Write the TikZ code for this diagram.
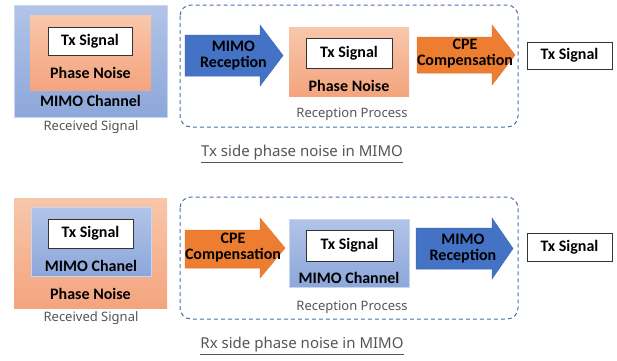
\documentclass[tikz,border=0pt]{standalone}
\usepackage{fontspec}
\setmainfont{Carlito}
\newfontfamily\notefont{Noto Sans}
\usetikzlibrary{positioning}

\definecolor{chanTop}{HTML}{B2C4E8}
\definecolor{chanBot}{HTML}{8CA7DA}
\definecolor{noiseTop}{HTML}{F8C7AB}
\definecolor{noiseBot}{HTML}{F4A47E}
\definecolor{rxBlue}{HTML}{4472C4}
\definecolor{rxBlueEdge}{HTML}{3F6BBA}
\definecolor{cpeOrange}{HTML}{ED7D31}
\definecolor{cpeOrangeEdge}{HTML}{E2742B}
\definecolor{frameBlue}{HTML}{4A6FB5}
\definecolor{noteGrey}{HTML}{555555}

\tikzset{
  chanbox/.style={rectangle, inner sep=0pt, top color=chanTop, bottom color=chanBot, draw=chanTop!70!white, line width=0.4pt},
  noisebox/.style={rectangle, inner sep=0pt, top color=noiseTop, bottom color=noiseBot, draw=none},
  sigbox/.style={rectangle, inner sep=0pt, fill=white, draw=black!80, line width=0.8pt,
    minimum height=28pt, font=\fontsize{16}{17}\selectfont\bfseries},
  boldlabel/.style={inner sep=0pt, font=\fontsize{16}{17}\selectfont\bfseries, text=black},
  arrowlabel/.style={inner sep=0pt, align=center, font=\fontsize{16}{16}\selectfont\bfseries, text=black},
  note/.style={inner sep=0pt, font=\notefont\fontsize{13}{15}\selectfont, text=noteGrey},
  caption/.style={inner sep=0pt, font=\notefont\fontsize{15}{17}\selectfont, text=noteGrey},
  frame/.style={draw=frameBlue, line width=1pt, dash pattern=on 4pt off 3pt, rounded corners=11pt},
  bluearrow/.style={fill=rxBlue, draw=rxBlueEdge, line width=0.5pt},
  orangearrow/.style={fill=cpeOrange, draw=cpeOrangeEdge, line width=0.5pt}
}

\begin{document}
\begin{tikzpicture}[x=1pt, y=-1pt]
\useasboundingbox (0,0) rectangle (617,360);

% ---------- Tx side phase noise ----------
\node[chanbox, minimum width=153pt, minimum height=112pt] (chanA) at (90.5,61) {};
\node[noisebox, minimum width=121pt, minimum height=75pt] (noiseA) at (90.5,52.5) {};
\node[sigbox, minimum width=84pt] (sigA) at (90,41) {Tx Signal};
\node[boldlabel] (pnA) at (90.5,73) {Phase Noise};
\node[boldlabel] (mcA) at (90.5,101) {MIMO Channel};
\node[note] (rsA) at (91,127.5) {Received Signal};

\draw[frame] (180,5) rectangle (518,127);
\node[note] (rpA) at (352,114) {Reception Process};

\draw[bluearrow] (185,35) -- (260,35) -- (260,25) -- (283,55.5) -- (260,86) -- (260,76) -- (185,76) -- cycle;
\node[arrowlabel] (mrA) at (233.5,56) {MIMO\\Reception};

\node[noisebox, minimum width=120pt, minimum height=69pt] (noiseB) at (349,61.5) {};
\node[sigbox, minimum width=86pt, minimum height=30pt] (sigB) at (349,53) {Tx Signal};
\node[boldlabel] (pnB) at (349,85.5) {Phase Noise};

\draw[orangearrow] (417,37) -- (492,37) -- (492,25) -- (515,55) -- (492,85) -- (492,73) -- (417,73) -- cycle;
\node[arrowlabel] (cpA) at (465,54) {CPE\\Compensation};

\node[sigbox, minimum width=85pt, minimum height=27pt] (outA) at (569.5,55.5) {Tx Signal};

\node[caption] (capA) at (302,154) {\underline{Tx side phase noise in MIMO}};

% ---------- Rx side phase noise ----------
\node[noisebox, minimum width=153pt, minimum height=110pt] (noiseC) at (90.5,253) {};
\node[chanbox, minimum width=120pt, minimum height=69pt] (chanC) at (91,241.5) {};
\node[sigbox, minimum width=85pt, minimum height=29pt] (sigC) at (90.5,233.5) {Tx Signal};
\node[boldlabel] (mcC) at (91,266) {MIMO Chanel};
\node[boldlabel] (pnC) at (90.5,293.5) {Phase Noise};
\node[note] (rsC) at (91,318.5) {Received Signal};

\draw[frame] (180,197) rectangle (518,319);
\node[note] (rpC) at (352,307) {Reception Process};

\draw[orangearrow] (185,230) -- (260,230) -- (260,218) -- (285,248) -- (260,278) -- (260,268) -- (185,268) -- cycle;
\node[arrowlabel] (cpC) at (233,247.5) {CPE\\Compensation};

\node[chanbox, minimum width=120pt, minimum height=68pt] (chanD) at (349,253) {};
\node[sigbox, minimum width=87pt, minimum height=31pt] (sigD) at (349.5,245.5) {Tx Signal};
\node[boldlabel] (mcD) at (349,277.5) {MIMO Channel};

\draw[bluearrow] (416,228) -- (492,228) -- (492,218) -- (513,248.5) -- (492,279) -- (492,269) -- (416,269) -- cycle;
\node[arrowlabel] (mrC) at (463,248.5) {MIMO\\Reception};

\node[sigbox, minimum width=85pt, minimum height=28pt] (outC) at (569.5,247) {Tx Signal};

\node[caption] (capC) at (302,346) {\underline{Rx side phase noise in MIMO}};
\end{tikzpicture}
\end{document}
